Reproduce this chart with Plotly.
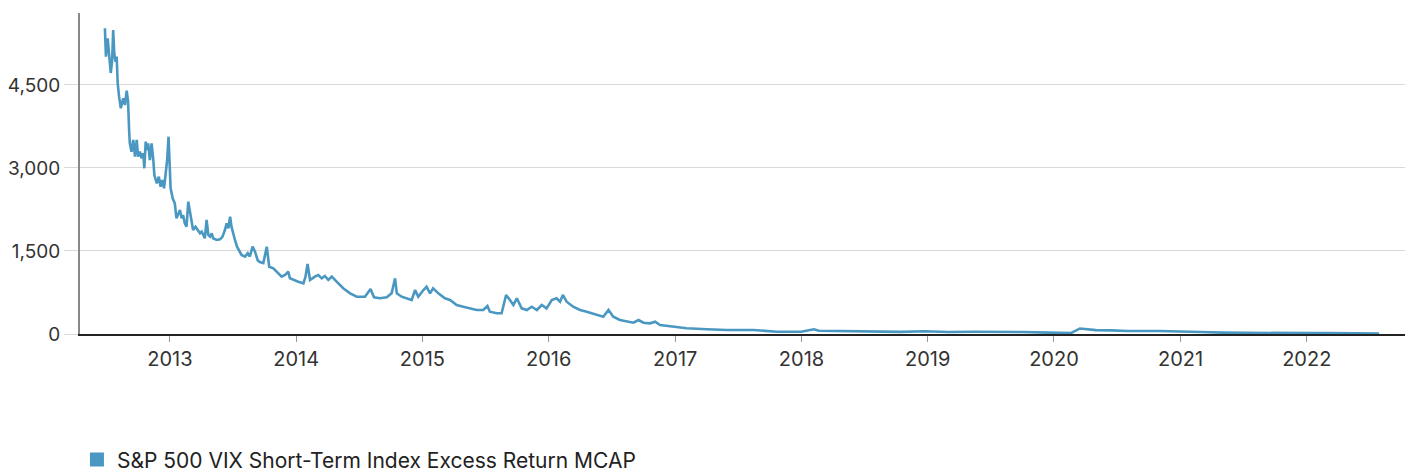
import plotly.graph_objects as go

series_name = "S&P 500 VIX Short-Term Index Excess Return MCAP"

dates = [
    "2012-06-27", "2012-06-30", "2012-07-05", "2012-07-09", "2012-07-14", "2012-07-18",
    "2012-07-21", "2012-07-24", "2012-07-28", "2012-07-31", "2012-08-03", "2012-08-07",
    "2012-08-12", "2012-08-19", "2012-08-24", "2012-08-29", "2012-09-02", "2012-09-05",
    "2012-09-07", "2012-09-12", "2012-09-17", "2012-09-22", "2012-09-27", "2012-10-01",
    "2012-10-06", "2012-10-11", "2012-10-16", "2012-10-19", "2012-10-23", "2012-10-27",
    "2012-10-30", "2012-11-04", "2012-11-09", "2012-11-14", "2012-11-17", "2012-11-24",
    "2012-11-30", "2012-12-05", "2012-12-10", "2012-12-15", "2012-12-20", "2012-12-24",
    "2012-12-28", "2013-01-01", "2013-01-03", "2013-01-09", "2013-01-15", "2013-01-20",
    "2013-01-25", "2013-01-30", "2013-02-04", "2013-02-08", "2013-02-13", "2013-02-18",
    "2013-02-23", "2013-02-28", "2013-03-05", "2013-03-09", "2013-03-16", "2013-03-22",
    "2013-03-29", "2013-04-03", "2013-04-07", "2013-04-12", "2013-04-17", "2013-04-22",
    "2013-04-27", "2013-05-02", "2013-05-06", "2013-05-16", "2013-05-26", "2013-06-02",
    "2013-06-09", "2013-06-14", "2013-06-19", "2013-06-24", "2013-06-28", "2013-07-03",
    "2013-07-08", "2013-07-14", "2013-07-22", "2013-07-27", "2013-08-06", "2013-08-14",
    "2013-08-20", "2013-08-28", "2013-09-04", "2013-09-12", "2013-09-18", "2013-09-28",
    "2013-10-08", "2013-10-15", "2013-10-27", "2013-11-10", "2013-11-20", "2013-11-30",
    "2013-12-09", "2013-12-14", "2013-12-24", "2014-01-07", "2014-01-22", "2014-01-28",
    "2014-02-03", "2014-02-10", "2014-02-24", "2014-03-06", "2014-03-16", "2014-03-25",
    "2014-04-04", "2014-04-14", "2014-04-28", "2014-05-17", "2014-06-06", "2014-06-25",
    "2014-07-19", "2014-08-04", "2014-08-14", "2014-08-31", "2014-09-20", "2014-10-04",
    "2014-10-14", "2014-10-19", "2014-11-02", "2014-11-17", "2014-12-01", "2014-12-11",
    "2014-12-20", "2015-01-04", "2015-01-13", "2015-01-23", "2015-02-01", "2015-02-16",
    "2015-03-07", "2015-03-22", "2015-04-10", "2015-04-29", "2015-05-19", "2015-06-07",
    "2015-06-26", "2015-07-08", "2015-07-15", "2015-08-04", "2015-08-18", "2015-08-31",
    "2015-09-11", "2015-09-21", "2015-10-01", "2015-10-15", "2015-10-30", "2015-11-13",
    "2015-11-28", "2015-12-12", "2015-12-26", "2016-01-10", "2016-01-24", "2016-02-03",
    "2016-02-11", "2016-02-22", "2016-03-12", "2016-04-01", "2016-04-20", "2016-05-19",
    "2016-06-07", "2016-06-22", "2016-07-06", "2016-07-25", "2016-08-14", "2016-09-02",
    "2016-09-17", "2016-10-01", "2016-10-20", "2016-11-04", "2016-11-18", "2016-12-27",
    "2017-02-03", "2017-04-02", "2017-05-30", "2017-08-15", "2017-10-22", "2017-12-31",
    "2018-02-06", "2018-02-20", "2018-04-01", "2018-06-01", "2018-08-01", "2018-10-15",
    "2018-12-24", "2019-01-15", "2019-03-01", "2019-05-15", "2019-08-10", "2019-10-01",
    "2019-12-15", "2020-01-15", "2020-02-20", "2020-03-16", "2020-04-01", "2020-05-01",
    "2020-06-15", "2020-08-01", "2020-10-30", "2020-12-31", "2021-01-27", "2021-03-01",
    "2021-05-01", "2021-08-01", "2021-11-30", "2022-01-15", "2022-03-07", "2022-05-01",
    "2022-07-29",
]

values = [
    5524, 5011, 5343, 5041, 4716, 4951,
    5493, 5072, 4920, 5011, 4530, 4288,
    4078, 4259, 4138, 4397, 4198, 3686,
    3451, 3294, 3506, 3204, 3506, 3204,
    3294, 3175, 3265, 2994, 3475, 3325,
    3446, 3144, 3446, 3144, 2873, 2723,
    2843, 2662, 2783, 2633, 2963, 3144,
    3565, 2904, 2633, 2452, 2362, 2091,
    2181, 2241, 2091, 2150, 2000, 1939,
    2391, 2210, 2060, 1879, 1939, 1879,
    1820, 1849, 1789, 1729, 2060, 1789,
    1759, 1820, 1729, 1699, 1711, 1759,
    1879, 2000, 1910, 2120, 1939, 1789,
    1699, 1578, 1487, 1428, 1397, 1458,
    1400, 1578, 1487, 1330, 1300, 1280,
    1578, 1216, 1187, 1097, 1036, 1066,
    1126, 1006, 976, 945, 916, 1036,
    1265, 976, 1036, 1066, 1006, 1048,
    976, 1036, 945, 826, 735, 674,
    674, 813, 663, 645, 663, 735,
    1006, 735, 674, 645, 614, 795,
    674, 795, 855, 735, 826, 735,
    645, 614, 524, 493, 464, 434,
    434, 506, 403, 374, 374, 705,
    614, 524, 645, 464, 434, 493,
    434, 524, 464, 614, 645, 584,
    705, 584, 493, 434, 403, 343,
    313, 434, 313, 253, 222, 204,
    253, 204, 193, 222, 163, 132,
    103, 85, 72, 72, 42, 40,
    85, 60, 55, 45, 40, 38,
    50, 42, 35, 40, 45, 35,
    25, 20, 18, 100, 85, 70,
    65, 55, 55, 40, 45, 35,
    25, 18, 15, 15, 17, 14,
    10,
]

y_tick_values = [0, 1500, 3000, 4500]
y_tick_labels = ["0", "1,500", "3,000", "4,500"]

line_color = "#4a98c1"
font_family = "Inter, Roboto, sans-serif"

fig = go.Figure()
fig.add_trace(go.Scatter(
    x=dates, y=values, mode="lines", name=series_name,
    line=dict(color=line_color, width=2.6), showlegend=False,
))
# legend entry with square swatch
fig.add_trace(go.Scatter(
    x=[None], y=[None], mode="markers", name=series_name,
    marker=dict(symbol="square", size=14, color=line_color),
    showlegend=True,
))

fig.update_layout(
    width=1413, height=472,
    margin=dict(l=80, r=8, t=13, b=138, autoexpand=False),
    paper_bgcolor="white", plot_bgcolor="white",
    font=dict(family=font_family, size=20, color="#333333"),
    legend=dict(
        orientation="h", x=-0.0023, xanchor="left", y=-0.392, yanchor="middle",
        font=dict(size=21, color="#222222"), itemsizing="trace",
        bgcolor="rgba(0,0,0,0)",
    ),
    xaxis=dict(
        type="date",
        range=["2012-04-16", "2022-10-12"],
        tickformat="%Y", dtick="M12", tick0="2013-01-01",
        showgrid=False,
        showline=True, linecolor="#222222", linewidth=2,
        ticks="outside", ticklen=6, tickcolor="#999999", tickwidth=1,
        tickfont=dict(size=20, color="#333333"),
        zeroline=False, automargin=False,
    ),
    yaxis=dict(
        range=[0, 5800],
        tickvals=y_tick_values, ticktext=y_tick_labels,
        showgrid=True, gridcolor="#d9d9d9", gridwidth=1,
        showline=True, linecolor="#888888", linewidth=2,
        ticks="outside", ticklen=14, tickcolor="#d9d9d9", tickwidth=1,
        tickfont=dict(size=19, color="#333333"),
        zeroline=False, automargin=False,
    ),
)

# remove the browser's default 8px body margin so the figure fills the window
fig.write_html(
    "out.html",
    config={"displayModeBar": False},
    post_script="document.body.style.margin='0';document.body.style.overflow='hidden';",
)
